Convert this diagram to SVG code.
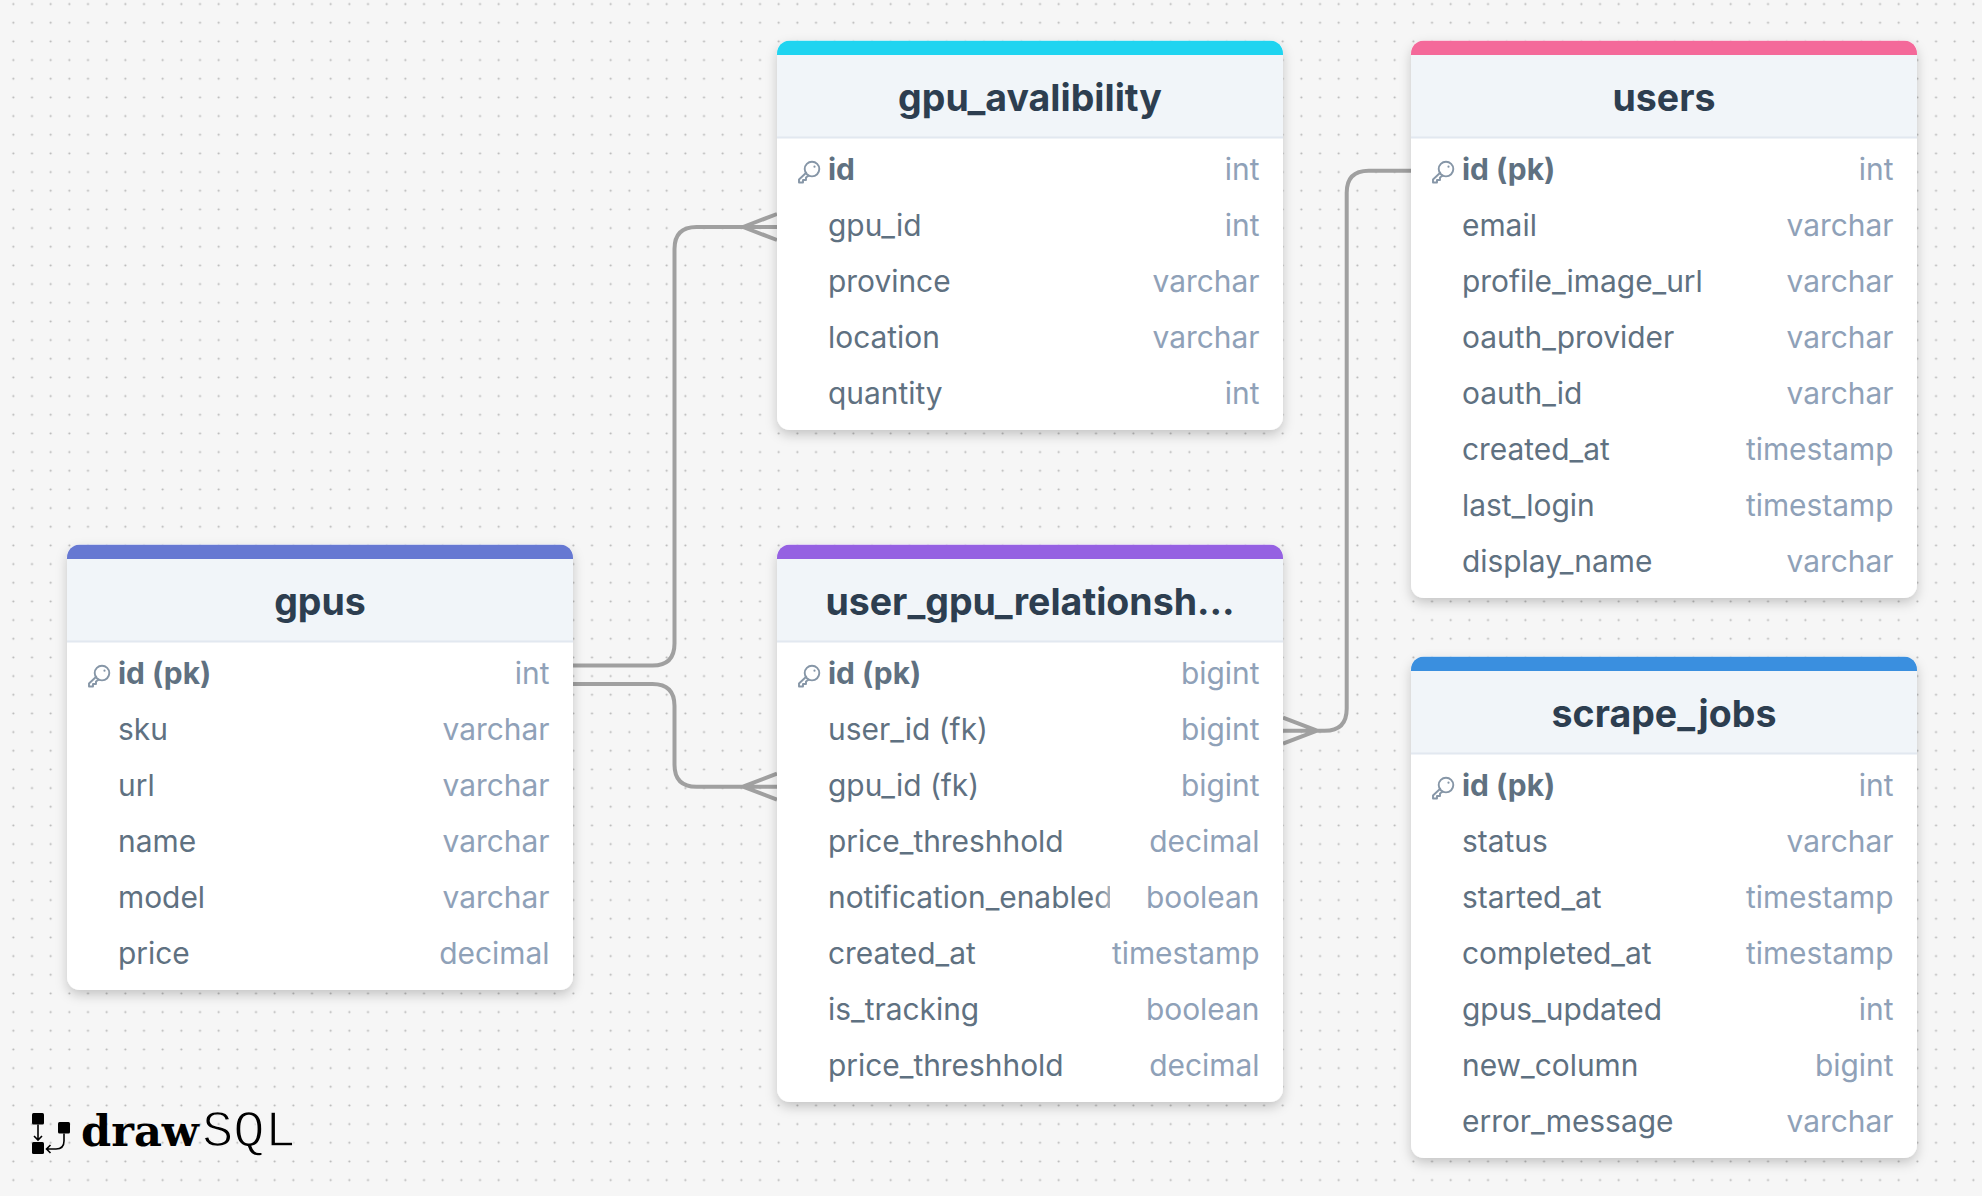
<svg xmlns="http://www.w3.org/2000/svg" width="1982" height="1196" viewBox="0 0 1982 1196">
<style>
text{font-family:Inter,"Noto Sans","Liberation Sans",sans-serif}
.card{fill:#fff;filter:url(#sh)}
.hd{fill:#f1f5f9}
.sep{stroke:#e2e8f0;stroke-width:2;fill:none}
.title{font-size:37.500px;font-weight:650;fill:#2d3e50;text-anchor:middle}
.n{font-size:29.900px;fill:#5f7181}
.pk{font-weight:650}
.t{font-size:29.900px;fill:#8fa1b8;text-anchor:end}
.conn{fill:none;stroke:#a0a0a0;stroke-width:4}
.key{fill:none;stroke:#8696a7;stroke-width:1.9;stroke-linejoin:round;stroke-linecap:round}
</style>
<defs>
<pattern id="dots" x="4" y="13.4" width="18.667" height="18.667" patternUnits="userSpaceOnUse"><circle cx="9.33" cy="9.33" r="1.05" fill="#b4b4b4"/></pattern>
<filter id="sh" x="-10%" y="-10%" width="120%" height="125%"><feDropShadow dx="0" dy="5" stdDeviation="6" flood-color="#000" flood-opacity=".2"/></filter>
<clipPath id="cb"><rect width="506" height="14.5"/></clipPath>
<clipPath id="cnt"><rect x="0" y="330" width="333" height="50"/></clipPath>
<linearGradient id="fade" gradientUnits="userSpaceOnUse" x1="318" y1="0" x2="333" y2="0"><stop offset="0" stop-color="#5f7181"/><stop offset="1" stop-color="#aab5c0"/></linearGradient>
<g id="k"><circle cx="14" cy="7.600" r="7.300" class="key"/><circle cx="16.500" cy="5.200" r="1.100" fill="#8696a7"/><path class="key" d="M8.200 11.200 1 18V21H5V18.500H8V16L10.800 14"/></g>
</defs>
<rect width="1982" height="1196" fill="#f6f6f6"/>
<rect width="1982" height="1196" fill="url(#dots)"/>
<g id="connectors">
<path class="conn" d="M573 665.5H652.500Q674.500 665.500 674.500 643.500V249Q674.500 227 696.500 227H777M743 227 777 214M743 227 777 240"/>
<path class="conn" d="M573 684H652.500Q674.500 684 674.500 706V764.700Q674.500 786.700 696.500 786.700H777M743 786.700 777 773.700M743 786.700 777 799.700"/>
<path class="conn" d="M1411 170.700H1368.700Q1346.700 170.700 1346.700 192.700V708.700Q1346.700 730.700 1324.700 730.700H1283M1317 730.700 1283 717.700M1317 730.700 1283 743.700"/>
</g>
<g id="gpus" transform="translate(67 544.500)">
<rect class="card" width="506" height="445.500" rx="13"/>
<rect class="hd" y="13" width="506" height="84"/><rect width="506" height="28" rx="13" fill="#6678d2" clip-path="url(#cb)"/><path class="sep" d="M0 97H506"/>
<text class="title" x="253" y="70">gpus</text>
<use href="#k" x="21" y="121"/>
<text class="n pk" x="51" y="139.500">id (pk)</text><text class="t" x="482.500" y="139.500">int</text>
<text class="n" x="51" y="195.500">sku</text><text class="t" x="482.500" y="195.500">varchar</text>
<text class="n" x="51" y="251.500">url</text><text class="t" x="482.500" y="251.500">varchar</text>
<text class="n" x="51" y="307.500">name</text><text class="t" x="482.500" y="307.500">varchar</text>
<text class="n" x="51" y="363.500">model</text><text class="t" x="482.500" y="363.500">varchar</text>
<text class="n" x="51" y="419.500">price</text><text class="t" x="482.500" y="419.500">decimal</text>
</g>
<g id="gpu_avalibility" transform="translate(777 40.500)">
<rect class="card" width="506" height="389.500" rx="13"/>
<rect class="hd" y="13" width="506" height="84"/><rect width="506" height="28" rx="13" fill="#1fd4f0" clip-path="url(#cb)"/><path class="sep" d="M0 97H506"/>
<text class="title" x="253" y="70">gpu_avalibility</text>
<use href="#k" x="21" y="121"/>
<text class="n pk" x="51" y="139.500">id</text><text class="t" x="482.500" y="139.500">int</text>
<text class="n" x="51" y="195.500">gpu_id</text><text class="t" x="482.500" y="195.500">int</text>
<text class="n" x="51" y="251.500">province</text><text class="t" x="482.500" y="251.500">varchar</text>
<text class="n" x="51" y="307.500">location</text><text class="t" x="482.500" y="307.500">varchar</text>
<text class="n" x="51" y="363.500">quantity</text><text class="t" x="482.500" y="363.500">int</text>
</g>
<g id="user_gpu_relationship" transform="translate(777 544.500)">
<rect class="card" width="506" height="557.500" rx="13"/>
<rect class="hd" y="13" width="506" height="84"/><rect width="506" height="28" rx="13" fill="#9561e2" clip-path="url(#cb)"/><path class="sep" d="M0 97H506"/>
<text class="title" x="253" y="70">user_gpu_relationsh…</text>
<use href="#k" x="21" y="121"/>
<text class="n pk" x="51" y="139.500">id (pk)</text><text class="t" x="482.500" y="139.500">bigint</text>
<text class="n" x="51" y="195.500">user_id (fk)</text><text class="t" x="482.500" y="195.500">bigint</text>
<text class="n" x="51" y="251.500">gpu_id (fk)</text><text class="t" x="482.500" y="251.500">bigint</text>
<text class="n" x="51" y="307.500">price_threshhold</text><text class="t" x="482.500" y="307.500">decimal</text>
<text class="n" x="51" y="363.500" clip-path="url(#cnt)" style="fill:url(#fade)">notification_enabled</text><text class="t" x="482.500" y="363.500">boolean</text>
<text class="n" x="51" y="419.500">created_at</text><text class="t" x="482.500" y="419.500">timestamp</text>
<text class="n" x="51" y="475.500">is_tracking</text><text class="t" x="482.500" y="475.500">boolean</text>
<text class="n" x="51" y="531.500">price_threshhold</text><text class="t" x="482.500" y="531.500">decimal</text>
</g>
<g id="users" transform="translate(1411 40.500)">
<rect class="card" width="506" height="557.500" rx="13"/>
<rect class="hd" y="13" width="506" height="84"/><rect width="506" height="28" rx="13" fill="#f4699a" clip-path="url(#cb)"/><path class="sep" d="M0 97H506"/>
<text class="title" x="253" y="70">users</text>
<use href="#k" x="21" y="121"/>
<text class="n pk" x="51" y="139.500">id (pk)</text><text class="t" x="482.500" y="139.500">int</text>
<text class="n" x="51" y="195.500">email</text><text class="t" x="482.500" y="195.500">varchar</text>
<text class="n" x="51" y="251.500">profile_image_url</text><text class="t" x="482.500" y="251.500">varchar</text>
<text class="n" x="51" y="307.500">oauth_provider</text><text class="t" x="482.500" y="307.500">varchar</text>
<text class="n" x="51" y="363.500">oauth_id</text><text class="t" x="482.500" y="363.500">varchar</text>
<text class="n" x="51" y="419.500">created_at</text><text class="t" x="482.500" y="419.500">timestamp</text>
<text class="n" x="51" y="475.500">last_login</text><text class="t" x="482.500" y="475.500">timestamp</text>
<text class="n" x="51" y="531.500">display_name</text><text class="t" x="482.500" y="531.500">varchar</text>
</g>
<g id="scrape_jobs" transform="translate(1411 656.500)">
<rect class="card" width="506" height="501.500" rx="13"/>
<rect class="hd" y="13" width="506" height="84"/><rect width="506" height="28" rx="13" fill="#3a8fdf" clip-path="url(#cb)"/><path class="sep" d="M0 97H506"/>
<text class="title" x="253" y="70">scrape_jobs</text>
<use href="#k" x="21" y="121"/>
<text class="n pk" x="51" y="139.500">id (pk)</text><text class="t" x="482.500" y="139.500">int</text>
<text class="n" x="51" y="195.500">status</text><text class="t" x="482.500" y="195.500">varchar</text>
<text class="n" x="51" y="251.500">started_at</text><text class="t" x="482.500" y="251.500">timestamp</text>
<text class="n" x="51" y="307.500">completed_at</text><text class="t" x="482.500" y="307.500">timestamp</text>
<text class="n" x="51" y="363.500">gpus_updated</text><text class="t" x="482.500" y="363.500">int</text>
<text class="n" x="51" y="419.500">new_column</text><text class="t" x="482.500" y="419.500">bigint</text>
<text class="n" x="51" y="475.500">error_message</text><text class="t" x="482.500" y="475.500">varchar</text>
</g>
<g id="logo">
<rect x="32" y="1113" width="12" height="11.500" rx="1.500" fill="#000"/>
<rect x="32" y="1142" width="12" height="12" rx="1.500" fill="#000"/>
<rect x="58" y="1122" width="12" height="11.500" rx="1.500" fill="#000"/>
<path d="M38 1124.500V1140M34 1136 38 1140 42 1136M64 1133.500V1141Q64 1149 56 1149H47M50.500 1145 46.500 1149 50.500 1153" fill="none" stroke="#000" stroke-width="1.600"/>
<text x="81" y="1146" textLength="118" lengthAdjust="spacingAndGlyphs" font-size="43" font-weight="700" fill="#000" style="font-family:'DejaVu Serif',serif">draw</text>
<text x="202" y="1146" textLength="94" lengthAdjust="spacingAndGlyphs" font-size="51" fill="#000" stroke="#f6f6f6" stroke-width="1.400" style="font-family:'Liberation Mono',monospace">SQL</text>
</g>
</svg>
